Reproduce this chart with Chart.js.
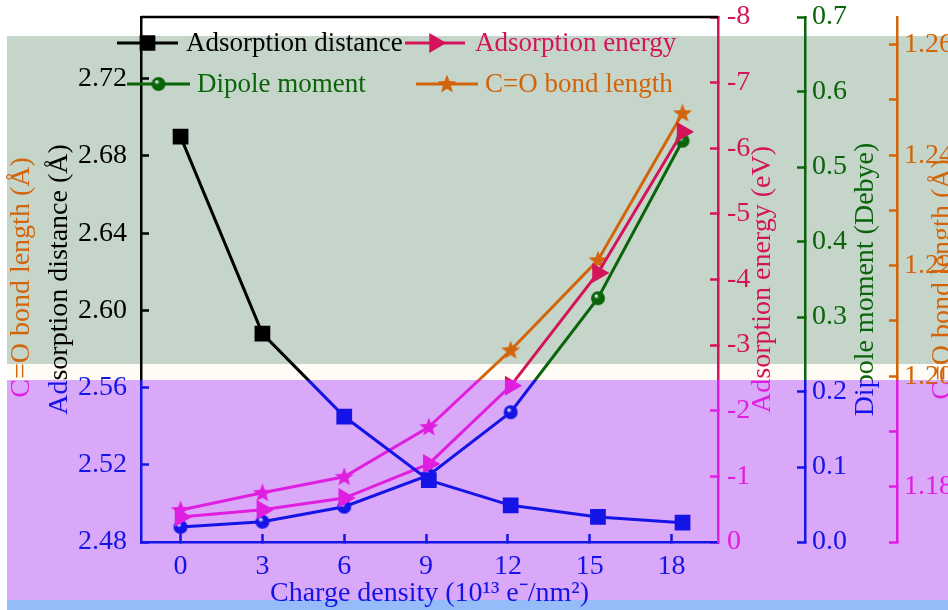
<!DOCTYPE html>
<html>
<head>
<meta charset="utf-8">
<script src="https://cdn.jsdelivr.net/npm/chart.js@4.4.1/dist/chart.umd.min.js"></script>
<style>
  html, body { margin: 0; padding: 0; background: #fff; overflow: hidden; }
  #wrap { width: 948px; height: 610px; }
</style>
</head>
<body>
<div id="wrap"><canvas id="chart" width="948" height="610"></canvas></div>
<script>
// charge density (10^13 e-/nm^2)
const charge = [0, 3, 6, 9.1, 12.1, 15.3, 18.4];
const distance = [2.690, 2.588, 2.545, 2.512, 2.499, 2.493, 2.490];
const energy = [-0.38, -0.49, -0.67, -1.19, -2.38, -4.10, -6.25];
const dipole = [0.020, 0.027, 0.047, 0.089, 0.173, 0.325, 0.535];
const bondLength = [1.1758, 1.1789, 1.1818, 1.1908, 1.2047, 1.2210, 1.2476];

const xTicks = [0, 3, 6, 9, 12, 15, 18];
const distanceTicks = [2.48, 2.52, 2.56, 2.60, 2.64, 2.68, 2.72];
const energyTicks = [0, -1, -2, -3, -4, -5, -6, -7, -8];
const dipoleTicks = [0, 0.1, 0.2, 0.3, 0.4, 0.5, 0.6, 0.7];
const bondTicks = [1.17, 1.18, 1.19, 1.20, 1.21, 1.22, 1.23, 1.24, 1.25, 1.26];

const legendLabels = ['Adsorption distance', 'Adsorption energy', 'Dipole moment', 'C=O bond length'];

const FONT = 'Liberation Serif, Times New Roman, serif';
const SPLIT = 380; // y where the lower (purple) band starts

const canvas = document.getElementById('chart');
const ctx = canvas.getContext('2d');

function bandGradient(upper, lower) {
  const g = ctx.createLinearGradient(0, 0, 0, 610);
  const t = SPLIT / 610;
  g.addColorStop(0, upper);
  g.addColorStop(t, upper);
  g.addColorStop(t, lower);
  g.addColorStop(1, lower);
  return g;
}

const C = {
  black: '#000000', crimson: '#d4145a', green: '#0a640a', orange: '#d2640a',
  blue: '#1414e6', magenta: '#e01ee0'
};
const gDist = bandGradient(C.black, C.blue);
const gEnergy = bandGradient(C.crimson, C.magenta);
const gDipole = bandGradient(C.green, C.blue);
const gBond = bandGradient(C.orange, C.magenta);

// tick label colour picked by where the label sits
function labelColor(upper, lower) {
  return (c) => {
    if (!c.tick || !c.scale) return upper;
    return c.scale.getPixelForValue(c.tick.value) > SPLIT ? lower : upper;
  };
}

function makeStar(color) {
  const c = document.createElement('canvas');
  c.width = 22; c.height = 22;
  const g = c.getContext('2d');
  g.fillStyle = color;
  g.beginPath();
  for (let i = 0; i < 10; i++) {
    const r = i % 2 === 0 ? 10 : 4.2;
    const a = -Math.PI / 2 + i * Math.PI / 5;
    g.lineTo(11 + r * Math.cos(a), 11.5 + r * Math.sin(a));
  }
  g.closePath();
  g.fill();
  return c;
}

function makeBall(color) {
  const c = document.createElement('canvas');
  c.width = 16; c.height = 16;
  const g = c.getContext('2d');
  const rg = g.createRadialGradient(6, 5.5, 0.5, 8, 8, 7.5);
  rg.addColorStop(0, '#eef6ff');
  rg.addColorStop(0.3, color);
  rg.addColorStop(1, color);
  g.fillStyle = rg;
  g.beginPath();
  g.arc(8, 8, 7, 0, Math.PI * 2);
  g.fill();
  return c;
}

const starUp = makeStar(C.orange), starLow = makeStar(C.magenta);
const ballUp = makeBall(C.green), ballLow = makeBall(C.blue);

function lowerBand(c, axisId) {
  if (!c.parsed) return false;
  return c.chart.scales[axisId].getPixelForValue(c.parsed.y) > SPLIT;
}

function series(values) {
  return charge.map((x, i) => ({ x, y: values[i] }));
}

const bands = [
  { y0: 0, y1: 36, color: '#ffffff' },
  { y0: 36, y1: 364, color: '#c5d5c9' },
  { y0: 364, y1: 380, color: '#fffcf5' },
  { y0: 380, y1: 600, color: '#d9a8f9' },
  { y0: 600, y1: 610, color: '#94bcf9' }
];

const bandPlugin = {
  id: 'bands',
  beforeDraw(chart) {
    const c = chart.ctx;
    c.save();
    bands.forEach((b) => {
      c.fillStyle = b.color;
      c.fillRect(7, b.y0, chart.width - 7, b.y1 - b.y0);
    });
    c.restore();
  }
};

// vertical text, upper half in one colour and lower half in the other
function splitText(c, chart, text, x, y, upper, lower) {
  [[0, SPLIT, upper], [SPLIT, chart.height - SPLIT, lower]].forEach(([y0, h, col]) => {
    c.save();
    c.beginPath();
    c.rect(0, y0, chart.width, h);
    c.clip();
    c.fillStyle = col;
    c.translate(x, y);
    c.rotate(-Math.PI / 2);
    c.fillText(text, 0, 0);
    c.restore();
  });
}

// rotated axis titles (reading bottom to top) and the top frame line
const titlePlugin = {
  id: 'titles',
  afterDraw(chart) {
    const c = chart.ctx;
    const { top, bottom, left, right } = chart.chartArea;
    const s = chart.scales;
    const mid = (top + bottom) / 2;
    const titles = [
      { text: 'C=O bond length (Å)', x: 22, y: mid - 2, up: C.orange, low: C.magenta },
      { text: 'Adsorption distance (Å)', x: 60, y: mid, up: C.black, low: C.blue },
      { text: 'Adsorption energy (eV)', x: s.yEnergy.left + 45, y: mid, up: C.crimson, low: C.magenta },
      { text: 'Dipole moment (Debye)', x: s.yDipole.left + 61, y: mid, up: C.green, low: C.blue },
      { text: 'C=O bond length (Å)', x: s.yBond.left + 46, y: mid, up: C.orange, low: C.magenta }
    ];
    c.save();
    c.font = '28px ' + FONT;
    c.textAlign = 'center';
    c.textBaseline = 'middle';
    titles.forEach((t) => splitText(c, chart, t.text, t.x, t.y, t.up, t.low));
    c.strokeStyle = '#000';
    c.lineWidth = 2.5;
    c.beginPath();
    c.moveTo(left, top);
    c.lineTo(right, top);
    c.stroke();
    c.restore();
  }
};

// legend drawn inside the plot area, two rows
const legendPlugin = {
  id: 'insideLegend',
  afterDraw(chart) {
    const c = chart.ctx;
    const items = [
      { label: legendLabels[0], color: C.black, x1: 117, x2: 178, tx: 186, y: 43, mark: 'rect' },
      { label: legendLabels[1], color: C.crimson, x1: 405, x2: 465, tx: 475, y: 43, mark: 'triangle' },
      { label: legendLabels[2], color: C.green, x1: 127, x2: 190, tx: 197, y: 84, mark: ballUp },
      { label: legendLabels[3], color: C.orange, x1: 416, x2: 478, tx: 485, y: 84, mark: starUp }
    ];
    c.save();
    c.font = '27px ' + FONT;
    c.textBaseline = 'middle';
    items.forEach((it) => {
      const mx = (it.x1 + it.x2) / 2;
      c.strokeStyle = it.color;
      c.fillStyle = it.color;
      c.lineWidth = 3;
      c.beginPath();
      c.moveTo(it.x1, it.y);
      c.lineTo(it.x2, it.y);
      c.stroke();
      if (typeof it.mark === 'string') {
        Chart.helpers.drawPoint(c, { pointStyle: it.mark, radius: it.mark === 'rect' ? 9 : 8.5, rotation: it.mark === 'triangle' ? 90 : 0, borderWidth: 1 }, mx, it.y);
      } else {
        c.drawImage(it.mark, mx - it.mark.width / 2, it.y - it.mark.height / 2);
      }
      c.fillStyle = it.color;
      c.fillText(it.label, it.tx, it.y + 1);
    });
    c.restore();
  }
};

function fixedTicks(list) {
  return (scale) => { scale.ticks = list.map((v) => ({ value: v })); };
}

function yAxis(opts) {
  return {
    type: 'linear',
    position: opts.position,
    weight: opts.weight || 0,
    min: opts.min,
    max: opts.max,
    reverse: !!opts.reverse,
    afterBuildTicks: fixedTicks(opts.ticks),
    afterFit: (scale) => {
      scale.width = opts.width;
      scale.paddingTop = 0;
      scale.paddingBottom = 0;
    },
    ticks: {
      font: { family: FONT, size: 28 },
      color: labelColor(opts.up, opts.low),
      padding: opts.padding,
      callback: opts.format
    },
    grid: {
      display: true,
      drawOnChartArea: false,
      drawTicks: true,
      tickLength: -8,
      tickWidth: 2.5,
      tickColor: opts.color
    },
    border: { display: true, color: opts.color, width: 2.5 },
    title: { display: false }
  };
}

new Chart(ctx, {
  type: 'line',
  data: {
    datasets: [
      {
        label: legendLabels[0],
        data: series(distance),
        yAxisID: 'yDist',
        borderColor: gDist,
        backgroundColor: gDist,
        pointBorderColor: gDist,
        pointBackgroundColor: gDist,
        pointStyle: 'rect',
        pointRadius: 9,
        borderWidth: 3
      },
      {
        label: legendLabels[1],
        data: series(energy),
        yAxisID: 'yEnergy',
        borderColor: gEnergy,
        backgroundColor: gEnergy,
        pointBorderColor: gEnergy,
        pointBackgroundColor: gEnergy,
        pointStyle: 'triangle',
        pointRotation: 90,
        pointRadius: 8.5,
        borderWidth: 3
      },
      {
        label: legendLabels[2],
        data: series(dipole),
        yAxisID: 'yDipole',
        borderColor: gDipole,
        backgroundColor: gDipole,
        pointStyle: (c) => (lowerBand(c, 'yDipole') ? ballLow : ballUp),
        borderWidth: 3
      },
      {
        label: legendLabels[3],
        data: series(bondLength),
        yAxisID: 'yBond',
        borderColor: gBond,
        backgroundColor: gBond,
        pointStyle: (c) => (lowerBand(c, 'yBond') ? starLow : starUp),
        borderWidth: 3
      }
    ]
  },
  options: {
    responsive: false,
    animation: false,
    layout: { padding: { top: 17, left: 0, right: 0, bottom: 0 } },
    plugins: {
      legend: { display: false },
      tooltip: { enabled: false }
    },
    scales: {
      x: {
        type: 'linear',
        position: 'bottom',
        min: -1.45,
        max: 19.7,
        afterBuildTicks: fixedTicks(xTicks),
        afterFit: (scale) => {
          scale.height = 68;
          scale.paddingLeft = 0;
          scale.paddingRight = 0;
        },
        ticks: {
          font: { family: FONT, size: 28 },
          color: C.blue,
          padding: 16,
          maxRotation: 0,
          callback: (v) => String(v)
        },
        grid: {
          display: true,
          drawOnChartArea: false,
          drawTicks: true,
          tickLength: -8,
          tickWidth: 2.5,
          tickColor: C.blue
        },
        border: { display: true, color: C.blue, width: 2.5 },
        title: {
          display: true,
          text: 'Charge density (10¹³ e⁻/nm²)',
          font: { family: FONT, size: 28 },
          color: C.blue,
          padding: { top: 0, bottom: 0 }
        }
      },
      yDist: yAxis({
        position: 'left', min: 2.48, max: 2.752, ticks: distanceTicks, width: 141,
        color: gDist, up: C.black, low: C.blue, padding: 22, format: (v) => v.toFixed(2)
      }),
      yEnergy: yAxis({
        position: 'right', weight: 1, min: -8, max: 0, reverse: true, ticks: energyTicks, width: 87,
        color: gEnergy, up: C.crimson, low: C.magenta, padding: 17, format: (v) => String(Math.round(v))
      }),
      yDipole: yAxis({
        position: 'right', weight: 2, min: 0, max: 0.7, ticks: dipoleTicks, width: 92,
        color: gDipole, up: C.green, low: C.blue, padding: 15, format: (v) => v.toFixed(1)
      }),
      yBond: yAxis({
        position: 'right', weight: 3, min: 1.17, max: 1.265, ticks: bondTicks, width: 51,
        color: gBond, up: C.orange, low: C.magenta, padding: 15,
        format: (v) => (Math.round(v * 100) % 2 === 0 ? v.toFixed(2) : '')
      })
    }
  },
  plugins: [bandPlugin, titlePlugin, legendPlugin]
});
</script>
</body>
</html>
